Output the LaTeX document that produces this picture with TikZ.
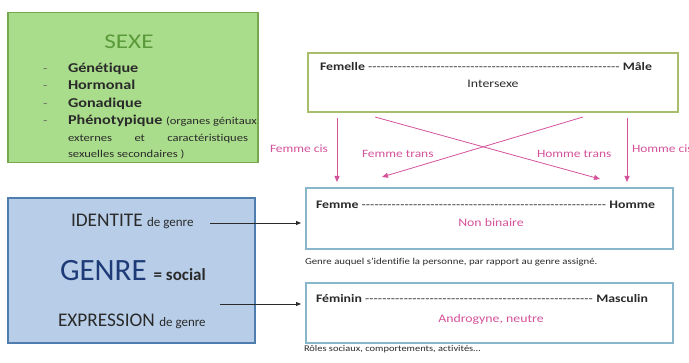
\documentclass[tikz,border=0pt]{standalone}
\usepackage{fontspec}
\setmainfont{Carlito}[FakeStretch=1.2,Ligatures=NoCommon]
\newfontfamily\genrefont{Carlito}[Ligatures=NoCommon]
\usetikzlibrary{arrows.meta,positioning}
\definecolor{sexFill}{HTML}{AADD8B}
\definecolor{sexLine}{HTML}{76A84C}
\definecolor{sexTitle}{HTML}{5A9A3A}
\definecolor{bioLine}{HTML}{A9BE6C}
\definecolor{genFill}{HTML}{B8CEE8}
\definecolor{genLine}{HTML}{4E7DAE}
\definecolor{genTitle}{HTML}{1E3B78}
\definecolor{idLine}{HTML}{88B6CB}
\definecolor{rosePink}{HTML}{D4529A}
\definecolor{inkGray}{HTML}{2A2A2A}
\begin{document}
\begin{tikzpicture}[x=1pt,y=-1pt,inner sep=0pt,outer sep=0pt,
  panel/.style={draw,line width=1.6pt,anchor=north west},
  scale box/.style={draw=idLine,line width=1.2pt,anchor=north west,minimum width=367pt,minimum height=61pt},
  txt/.style={anchor=base west,text=inkGray},
  item/.style={txt,font=\fontsize{13.5}{15}\selectfont\bfseries},
  small/.style={txt,font=\fontsize{10}{12}\selectfont},
  pinklab/.style={anchor=base west,text=rosePink,font=\fontsize{11.2}{13}\selectfont},
  pinkflow/.style={-{Triangle[length=6pt,width=5pt]},draw=rosePink,line width=0.8pt},
  flow/.style={-{Triangle[length=5pt,width=4pt]},draw=inkGray,line width=0.8pt}]
\useasboundingbox (0,0) rectangle (689,363);

% sexe panel
\node[panel,draw=sexLine,fill=sexFill,minimum width=250pt,minimum height=150pt] (sexe) at (8,12.5) {};
\node[text=sexTitle,font=\fontsize{21}{24}\selectfont] (sexetitle) at (129,42) {SEXE};
\foreach \y in {72.5,90,107.5,125}
  \node[txt,text=inkGray!70,font=\fontsize{12}{14}\selectfont] at (43,\y) {-};
\node[item] (gen) at (68,72.5) {Génétique};
\node[item] (hor) at (68,90) {Hormonal};
\node[item] (gon) at (68,107.5) {Gonadique};
\node[item] (phe) at (68,125) {Phénotypique {\mdseries\fontsize{10.5}{12}\selectfont(organes génitaux}};
\node[small,font=\fontsize{10.5}{12}\selectfont] (phe2) at (68,142) {\hbox to 180pt{externes\hfill et\hfill caractéristiques}};
\node[small,font=\fontsize{10.5}{12}\selectfont] (phe3) at (68,158) {sexuelles secondaires )};

% genre panel
\node[panel,draw=genLine,fill=genFill,line width=1.2pt,minimum width=247pt,minimum height=145pt] (genre) at (8,198) {};
\node[txt,font=\genrefont\fontsize{19.3}{22}\selectfont] (ident) at (71,227) {IDENTITE {\fontsize{13}{15}\selectfont de genre}};
\node[txt,text=genTitle,font=\genrefont\fontsize{31}{34}\selectfont] (genretitle) at (60,281) {GENRE {\color{inkGray}\fontsize{17}{20}\selectfont\bfseries = social}};
\node[txt,font=\genrefont\fontsize{19.3}{22}\selectfont] (expr) at (58,327) {EXPRESSION {\fontsize{13}{15}\selectfont de genre}};

% biological scale
\node[panel,draw=bioLine,line width=1.2pt,minimum width=370pt,minimum height=59pt] (bio) at (308,53) {};
\node[txt,font=\fontsize{11.5}{14}\selectfont] (fem) at (320,71) {\hbox to 332pt{\textbf{Femelle}\ \xleaders\hbox{-}\hfill\ \textbf{Mâle}}};
\node[txt,font=\fontsize{11.5}{14}\selectfont,anchor=base] (inter) at (493,88) {Intersexe};

% identity scale
\node[scale box] (idbox) at (306,188) {};
\node[txt,font=\fontsize{11.5}{14}\selectfont] (fh) at (316,209) {\hbox to 339pt{\textbf{Femme}\ \xleaders\hbox{-}\hfill\ \textbf{Homme}}};
\node[anchor=base,text=rosePink,font=\fontsize{11.5}{14}\selectfont] (nb) at (491,227) {Non binaire};
\node[small,font=\fontsize{9}{11}\selectfont] (cap1) at (305,265) {Genre auquel s’identifie la personne, par rapport au genre assigné.};

% expression scale
\node[scale box,minimum height=60pt] (exbox) at (306,283) {};
\node[txt,font=\fontsize{11.5}{14}\selectfont] (fm) at (316,303) {\hbox to 332pt{\textbf{Féminin}\ \xleaders\hbox{-}\hfill\ \textbf{Masculin}}};
\node[anchor=base,text=rosePink,font=\fontsize{11.5}{14}\selectfont] (andro) at (491,323) {Androgyne, neutre};
\node[small,font=\fontsize{8.7}{10}\selectfont] (cap2) at (304,352) {Rôles sociaux, comportements, activités…};

% transitions
\coordinate (fc0) at ([xshift=29pt,yshift=-6pt]bio.south west);
\coordinate (fc1) at ([xshift=31pt,yshift=6pt]idbox.north west);
\coordinate (hc0) at ([xshift=-51pt,yshift=-6pt]bio.south east);
\coordinate (hc1) at ([xshift=-46pt,yshift=6pt]idbox.north east);
\coordinate (ht0) at ([xshift=67pt,yshift=-5pt]bio.south west);
\coordinate (ht1) at ([xshift=294pt,yshift=9pt]idbox.north west);
\coordinate (ft0) at ([xshift=-95pt,yshift=-5pt]bio.south east);
\coordinate (ft1) at ([xshift=76pt,yshift=11pt]idbox.north west);
\draw[pinkflow] (fc0) -- (fc1 -| fc0);
\draw[pinkflow] (hc0) -- (hc1 -| hc0);
\draw[pinkflow] (ht0) -- (ht1);
\draw[pinkflow] (ft0) -- (ft1);
\node[pinklab] (fcis) at (270,153) {Femme cis};
\node[pinklab] (ftrans) at (362,158) {Femme trans};
\node[pinklab] (htrans) at (537,158) {Homme trans};
\node[pinklab] (hcis) at (632,153) {Homme cis};

% genre links
\coordinate (id0) at (210,223);
\draw[flow] (id0) -- ([xshift=-5pt]id0 -| idbox.west);
\coordinate (ex0) at (220,304);
\draw[flow] (ex0) -- ([xshift=-5pt]ex0 -| exbox.west);
\end{tikzpicture}
\end{document}
